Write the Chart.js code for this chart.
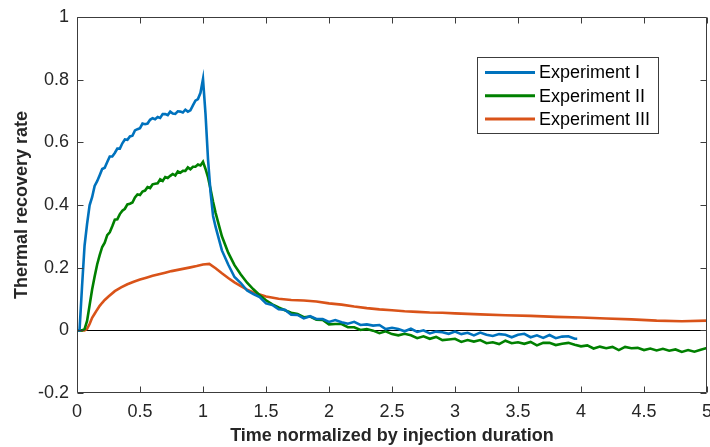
<!DOCTYPE html>
<html>
<head>
<meta charset="utf-8">
<title>Thermal recovery rate</title>
<script src="https://cdn.jsdelivr.net/npm/chart.js@4.4.1/dist/chart.umd.min.js"></script>
<style>
body{margin:0;background:#fff}
canvas{display:block}
</style>
</head>
<body>
<canvas id="recoveryChart" width="710" height="447"></canvas>
<script>
// ==============================
// Thermal recovery vs normalized time
// ==============================

const seriesNames = ["Experiment I","Experiment II","Experiment III"]
const seriesColors = ["#0072BD","#008000","#D95319"]

const xTicks = [0,0.5,1,1.5,2,2.5,3,3.5,4,4.5,5]
const yTicks = [-0.2,0,0.2,0.4,0.6,0.8,1]

// Experiment I
const exp1Time = [
0,0.02,0.04,0.06,0.08,0.10,0.12,0.14,0.16,0.18,0.20,0.22,0.24,0.26,0.28,0.30,0.32,0.34,0.36,0.38,
0.40,0.42,0.44,0.46,0.48,0.50,0.52,0.54,0.56,0.58,0.60,0.62,0.64,0.66,0.68,0.70,0.72,0.74,0.76,0.78,
0.80,0.82,0.84,0.86,0.88,0.90,0.92,0.94,0.96,0.98,1.00,1.02,1.04,1.06,1.08,1.10,
1.15,1.20,1.25,1.30,1.35,1.40,1.45,1.50,1.55,1.60,1.65,1.70,1.75,1.80,1.85,1.90,1.95,
2.00,2.05,2.10,2.15,2.20,2.25,2.30,2.35,2.40,2.45,2.50,2.55,2.60,2.65,2.70,2.75,2.80,2.85,2.90,2.95,
3.00,3.05,3.10,3.15,3.20,3.25,3.30,3.35,3.40,3.45,3.50,3.55,3.60,3.65,3.70,3.75,3.80,3.85,3.90,3.95,3.97
]
const exp1Rate = [
0,0,0.14,0.27,0.34,0.399,0.425,0.461,0.476,0.495,0.515,0.519,0.537,0.555,0.555,0.566,0.580,0.580,0.597,0.609,
0.608,0.619,0.621,0.638,0.642,0.645,0.660,0.658,0.660,0.672,0.677,0.674,0.681,0.678,0.690,0.690,0.687,0.698,0.692,0.691,
0.699,0.698,0.695,0.704,0.698,0.702,0.718,0.733,0.738,0.758,0.802,0.69,0.545,0.44,0.365,0.33,
0.255,0.210,0.170,0.151,0.127,0.116,0.106,0.086,0.081,0.067,0.066,0.050,0.049,0.038,0.045,0.036,0.036,
0.027,0.033,0.026,0.021,0.027,0.017,0.019,0.015,0.017,0.004,0.008,0.004,-0.003,0.005,-0.005,0.000,-0.010,-0.004,-0.006,-0.011,
-0.004,-0.012,-0.008,-0.016,-0.007,-0.014,-0.018,-0.012,-0.014,-0.022,-0.014,-0.011,-0.022,-0.016,-0.024,-0.015,-0.025,-0.020,-0.019,-0.027,-0.027
]

// Experiment II
const exp2Time = [
0,0.04,0.06,0.08,0.10,0.12,0.14,0.16,0.18,0.20,0.22,0.24,0.26,0.28,0.30,0.32,0.34,0.36,0.38,
0.40,0.42,0.44,0.46,0.48,0.50,0.52,0.54,0.56,0.58,0.60,0.62,0.64,0.66,0.68,0.70,0.72,0.74,0.76,0.78,
0.80,0.82,0.84,0.86,0.88,0.90,0.92,0.94,0.96,0.98,1.00,1.02,1.04,1.06,1.08,1.10,
1.15,1.20,1.25,1.30,1.35,1.40,1.45,1.50,1.55,1.60,1.65,1.70,1.75,1.80,1.85,1.90,1.95,
2.00,2.05,2.10,2.15,2.20,2.25,2.30,2.35,2.40,2.45,2.50,2.55,2.60,2.65,2.70,2.75,2.80,2.85,2.90,2.95,
3.00,3.05,3.10,3.15,3.20,3.25,3.30,3.35,3.40,3.45,3.50,3.55,3.60,3.65,3.70,3.75,3.80,3.85,3.90,3.95,
4.00,4.05,4.10,4.15,4.20,4.25,4.30,4.35,4.40,4.45,4.50,4.55,4.60,4.65,4.70,4.75,4.80,4.85,4.90,4.95,5.00
]
const exp2Rate = [
0,0,0.004,0.03,0.08,0.13,0.172,0.21,0.24,0.266,0.280,0.304,0.313,0.332,0.353,0.354,0.371,0.382,0.388,
0.402,0.404,0.408,0.424,0.434,0.432,0.443,0.446,0.457,0.454,0.466,0.468,0.469,0.482,0.477,0.489,0.486,0.493,0.499,0.494,
0.507,0.503,0.509,0.509,0.520,0.514,0.522,0.522,0.529,0.526,0.538,0.515,0.488,0.45,0.41,0.375,
0.300,0.248,0.208,0.178,0.152,0.131,0.112,0.096,0.083,0.073,0.064,0.056,0.052,0.042,0.044,0.034,0.033,
0.019,0.020,0.020,0.010,0.010,0.001,0.004,-0.001,-0.009,-0.003,-0.012,-0.016,-0.011,-0.016,-0.025,-0.019,-0.027,-0.021,-0.031,-0.029,
-0.027,-0.037,-0.031,-0.036,-0.031,-0.041,-0.038,-0.044,-0.033,-0.041,-0.038,-0.043,-0.037,-0.048,-0.040,-0.040,-0.047,-0.043,-0.040,-0.046,
-0.051,-0.048,-0.058,-0.052,-0.057,-0.053,-0.063,-0.053,-0.057,-0.056,-0.063,-0.058,-0.064,-0.059,-0.065,-0.061,-0.069,-0.063,-0.068,-0.062,-0.056
]

// Experiment III
const exp3Time = [
0,0.06,0.08,0.10,0.12,0.14,0.16,0.18,0.20,0.22,0.25,0.30,0.35,0.40,0.45,0.50,0.55,0.60,0.65,0.70,
0.75,0.80,0.85,0.90,0.95,1.00,1.05,1.10,1.15,1.20,1.25,1.30,1.35,1.40,1.45,1.50,1.60,1.70,1.80,1.90,
2.00,2.10,2.20,2.30,2.40,2.50,2.60,2.70,2.80,2.90,3.00,3.20,3.40,3.60,3.80,4.00,4.20,4.40,4.60,4.80,5.00
]
const exp3Rate = [
0,0,0.005,0.02,0.04,0.053,0.066,0.078,0.088,0.097,0.108,0.125,0.137,0.147,0.155,0.162,0.168,0.174,0.179,0.184,
0.189,0.193,0.197,0.201,0.205,0.21,0.212,0.198,0.182,0.167,0.153,0.141,0.13,0.121,0.114,0.108,0.101,0.097,0.095,0.092,
0.086,0.082,0.076,0.071,0.067,0.064,0.061,0.059,0.057,0.056,0.054,0.051,0.048,0.046,0.043,0.041,0.038,0.035,0.031,0.029,0.031
]

const axisColor = "#262626"
const frameColor = "#3c3c3c"
const fontFamily = "'Liberation Sans', Arial, sans-serif"


function toPoints(times,rates){

return times.map((t,i)=>({x:t,y:rates[i]}))

}


function fixTicks(list){

return function(scale){
scale.ticks = list.map(v=>({value:v}))
}

}


function formatTick(value){

return String(Math.round(value*10)/10)

}


// Frame, zero line and inward tick marks

const framePlugin = {

id:"frame",

beforeDatasetsDraw(chart){

const {ctx,chartArea,scales} = chart
const y0 = Math.round(scales.y.getPixelForValue(0))+0.5

ctx.save()
ctx.strokeStyle = "#000"
ctx.lineWidth = 1
ctx.beginPath()
ctx.moveTo(chartArea.left,y0)
ctx.lineTo(chartArea.right,y0)
ctx.stroke()
ctx.restore()

},

afterDatasetsDraw(chart){

const {ctx,chartArea,scales} = chart
const l = Math.round(chartArea.left)+0.5
const r = Math.round(chartArea.right)-0.5
const t = Math.round(chartArea.top)+0.5
const b = Math.round(chartArea.bottom)-0.5
const len = 6

ctx.save()
ctx.strokeStyle = frameColor
ctx.lineWidth = 1
ctx.beginPath()
ctx.rect(l,t,r-l,b-t)

xTicks.forEach(v=>{
const px = Math.round(scales.x.getPixelForValue(v))+0.5
ctx.moveTo(px,b)
ctx.lineTo(px,b-len)
ctx.moveTo(px,t)
ctx.lineTo(px,t+len)
})

yTicks.forEach(v=>{
const py = Math.round(scales.y.getPixelForValue(v))+0.5
ctx.moveTo(l,py)
ctx.lineTo(l+len,py)
ctx.moveTo(r,py)
ctx.lineTo(r-len,py)
})

ctx.stroke()
ctx.restore()

}

}


// Boxed legend in the upper right

const legendPlugin = {

id:"boxLegend",

afterDraw(chart){

const ctx = chart.ctx
const boxX = 477.5
const boxY = 57.5
const boxW = 181
const boxH = 76
const rowH = 23.3

ctx.save()
ctx.fillStyle = "#fff"
ctx.fillRect(boxX,boxY,boxW,boxH)
ctx.strokeStyle = frameColor
ctx.lineWidth = 1
ctx.strokeRect(boxX,boxY,boxW,boxH)

ctx.font = "18px " + fontFamily
ctx.textBaseline = "middle"
ctx.textAlign = "left"

seriesNames.forEach((name,i)=>{
const y = boxY+15+i*rowH
ctx.strokeStyle = seriesColors[i]
ctx.lineWidth = 3
ctx.beginPath()
ctx.moveTo(485,y)
ctx.lineTo(535,y)
ctx.stroke()
ctx.fillStyle = "#000"
ctx.fillText(name,539,y+1)
})

ctx.restore()

}

}


const datasets = [
{times:exp1Time,rates:exp1Rate},
{times:exp2Time,rates:exp2Rate},
{times:exp3Time,rates:exp3Rate}
].map((s,i)=>({

label:seriesNames[i],
data:toPoints(s.times,s.rates),
borderColor:seriesColors[i],
borderWidth:2.6,
pointRadius:0,
tension:0,
fill:false,
order:i

}))


new Chart(document.getElementById("recoveryChart"),{

type:"line",

data:{datasets},

options:{

responsive:false,
animation:false,
events:[],

layout:{
padding:{top:17,right:3,left:0,bottom:0}
},

plugins:{
legend:{display:false},
tooltip:{enabled:false}
},

scales:{

x:{
type:"linear",
min:0,
max:5,
afterBuildTicks:fixTicks(xTicks),
afterFit(scale){
scale.height = 54
scale.paddingLeft = 0
scale.paddingRight = 0
},
grid:{display:false,drawTicks:false},
border:{display:false},
ticks:{
color:axisColor,
padding:8,
maxRotation:0,
font:{family:fontFamily,size:18},
callback:formatTick
},
title:{
display:true,
text:"Time normalized by injection duration",
color:axisColor,
padding:{top:0,bottom:0},
font:{family:fontFamily,size:18,weight:"bold"}
}
},

y:{
type:"linear",
min:-0.2,
max:1,
afterBuildTicks:fixTicks(yTicks),
afterFit(scale){
scale.width = 77
scale.paddingTop = 0
scale.paddingBottom = 0
},
grid:{display:false,drawTicks:false},
border:{display:false},
ticks:{
color:axisColor,
padding:8,
font:{family:fontFamily,size:18},
callback:formatTick
},
title:{
display:true,
text:"Thermal recovery rate",
color:axisColor,
padding:{top:11,bottom:0},
font:{family:fontFamily,size:18,weight:"bold"}
}
}

}

},

plugins:[framePlugin,legendPlugin]

})
</script>
</body>
</html>
